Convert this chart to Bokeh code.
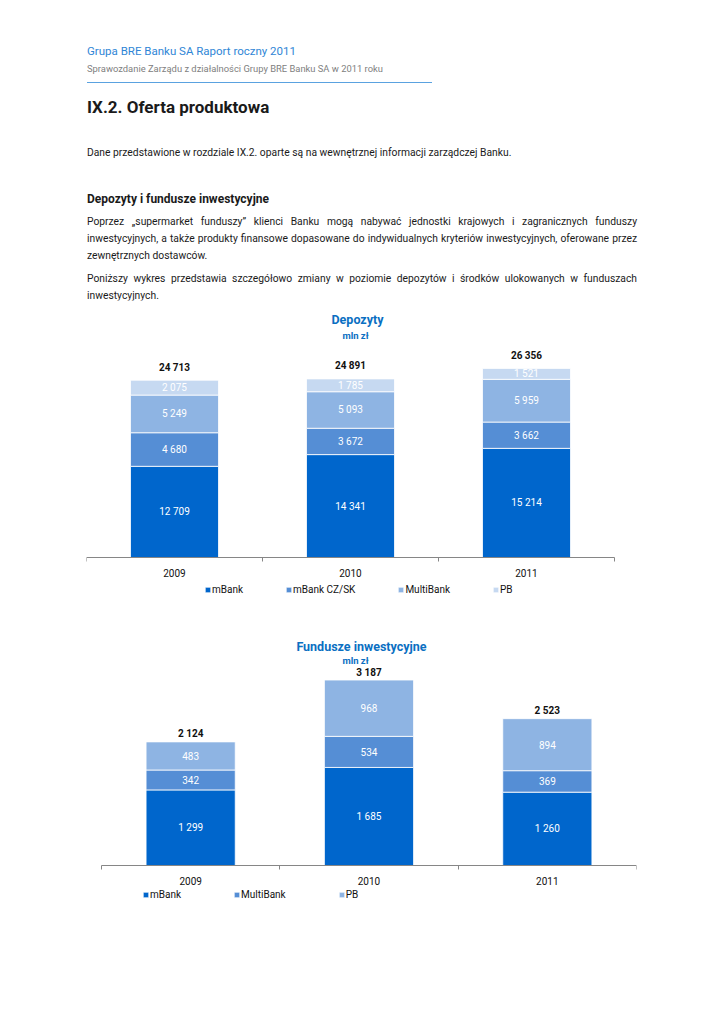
from bokeh.plotting import figure
from bokeh.models import Range1d, FixedTicker, Label, Legend, LegendItem, ColumnDataSource, Div
from bokeh.layouts import column
from bokeh.embed import file_html
from bokeh.resources import INLINE
from bokeh.core.properties import value

# ---------------- data ----------------
years = ["2009", "2010", "2011"]

dep_series = ["mBank", "mBank CZ/SK", "MultiBank", "PB"]
dep_mbank = [12709, 14341, 15214]
dep_czsk = [4680, 3672, 3662]
dep_multibank = [5249, 5093, 5959]
dep_pb = [2075, 1785, 1521]
dep_total = [24713, 24891, 26356]

fund_series = ["mBank", "MultiBank", "PB"]
fund_mbank = [1299, 1685, 1260]
fund_multibank = [342, 534, 369]
fund_pb = [483, 968, 894]
fund_total = [2124, 3187, 2523]

# ---------------- page text ----------------
hdr1 = "Grupa BRE Banku SA Raport roczny 2011"
hdr2 = "Sprawozdanie Zarządu z działalności Grupy BRE Banku SA w 2011 roku"
heading = "IX.2. Oferta produktowa"
intro = "Dane przedstawione w rozdziale IX.2. oparte są na wewnętrznej informacji zarządczej Banku."
subhead = "Depozyty i fundusze inwestycyjne"
par1 = ["Poprzez „supermarket funduszy” klienci Banku mogą nabywać jednostki krajowych i zagranicznych funduszy",
        "inwestycyjnych, a także produkty finansowe dopasowane do indywidualnych kryteriów inwestycyjnych, oferowane przez",
        "zewnętrznych dostawców."]
par2 = ["Poniższy wykres przedstawia szczegółowo zmiany w poziomie depozytów i środków ulokowanych w funduszach",
        "inwestycyjnych."]

FONT = "Roboto"
BODY = 10.3
LEFT = 87


def par_html(lines, top):
    out = []
    for i, ln in enumerate(lines):
        last = i == len(lines) - 1
        if last:
            style = "text-align:left;white-space:nowrap;"
        else:
            style = "text-align:justify;text-align-last:justify;"
        out.append(
            f'<div style="position:absolute;left:{LEFT}px;top:{top + 17 * i}px;width:550px;'
            f'font-size:{BODY}px;line-height:17px;{style}">{ln}</div>')
    return "".join(out)


html = (
    f'<div style="position:relative;width:708px;height:300px;font-family:{FONT},sans-serif;color:#1a1a1a;">'
    f'<div style="position:absolute;left:{LEFT}px;top:44px;font-size:11.5px;line-height:14px;color:#2f86d6;white-space:nowrap;">{hdr1}</div>'
    f'<div style="position:absolute;left:{LEFT}px;top:62.5px;font-size:9.4px;line-height:11px;color:#808080;white-space:nowrap;">{hdr2}</div>'
    f'<div style="position:absolute;left:{LEFT}px;top:82px;width:345px;height:0px;border-top:1px solid #5aa2e0;"></div>'
    f'<div style="position:absolute;left:{LEFT}px;top:97px;font-size:17px;line-height:20px;font-weight:bold;color:#1a1a1a;white-space:nowrap;">{heading}</div>'
    f'<div style="position:absolute;left:{LEFT}px;top:143.5px;font-size:{BODY}px;line-height:17px;white-space:nowrap;">{intro}</div>'
    f'<div style="position:absolute;left:{LEFT}px;top:190.5px;font-size:12px;line-height:17px;font-weight:bold;white-space:nowrap;">{subhead}</div>'
    + par_html(par1, 212.5)
    + par_html(par2, 269.5)
    + '</div>'
)

div = Div(text=html, width=708, height=300, margin=0)


def fmt(v):
    return f"{v:,}".replace(",", " ")


def make_chart(title, names, values, totals, colors, height, x_range, y_range,
               title_xy, unit_xy, legend_loc, legend_spacing, total_off):
    p = figure(width=708, height=height, output_backend="svg", toolbar_location=None,
               x_range=Range1d(*x_range), y_range=Range1d(*y_range), y_axis_location=None,
               min_border_left=86, min_border_right=72, min_border_top=0,
               min_border_bottom=40)
    p.outline_line_color = None
    p.xgrid.visible = False
    p.ygrid.visible = False
    xs = [i + 0.5 for i in range(len(years))]
    bottoms = [0] * len(years)
    items = []
    for name, vals, col in zip(names, values, colors):
        tops = [b + v for b, v in zip(bottoms, vals)]
        src = ColumnDataSource(dict(x=xs, bottom=bottoms, top=tops,
                                    mid=[(b + t) / 2 for b, t in zip(bottoms, tops)],
                                    lab=[fmt(v) for v in vals]))
        r = p.vbar(x="x", bottom="bottom", top="top", width=0.5, source=src,
                   fill_color=col, line_color="white", line_width=0.8)
        p.text(x="x", y="mid", text="lab", source=src, text_align="center", text_baseline="middle",
               text_color="white", text_font=value(FONT), text_font_size="10px")
        items.append(LegendItem(label=name, renderers=[r]))
        bottoms = tops
    tsrc = ColumnDataSource(dict(x=xs, y=totals, lab=[fmt(v) for v in totals]))
    p.text(x="x", y="y", text="lab", source=tsrc, text_align="center", text_baseline="middle",
           y_offset=-total_off, text_color="#111111", text_font=value(FONT), text_font_size="10px",
           text_font_style="bold")
    p.add_layout(Label(x=title_xy[0], y=title_xy[1], x_units="screen", y_units="screen", text=title,
                       text_align="center", text_baseline="middle", text_color="#0a6fc2",
                       text_font=FONT, text_font_size="12.5px", text_font_style="bold"))
    p.add_layout(Label(x=unit_xy[0], y=unit_xy[1], x_units="screen", y_units="screen", text="mln zł",
                       text_align="center", text_baseline="middle", text_color="#0a6fc2",
                       text_font=FONT, text_font_size="9.5px", text_font_style="bold"))
    ax = p.xaxis[0]
    ax.fixed_location = 0
    ax.bounds = (0, len(years))
    ax.ticker = FixedTicker(ticks=xs, minor_ticks=list(range(len(years) + 1)))
    ax.major_label_overrides = {x: y for x, y in zip(xs, years)}
    ax.axis_line_color = "#868686"
    ax.major_tick_in = 0
    ax.major_tick_out = 0
    ax.minor_tick_in = 0
    ax.minor_tick_out = 4
    ax.minor_tick_line_color = "#868686"
    ax.major_label_standoff = 7
    ax.major_label_text_font = FONT
    ax.major_label_text_font_size = "10px"
    ax.major_label_text_color = "#111111"
    leg = Legend(items=items, location=legend_loc, orientation="horizontal", spacing=legend_spacing,
                 glyph_width=7, glyph_height=7, label_standoff=1, padding=0, margin=0,
                 border_line_color=None, background_fill_alpha=0, label_text_font=FONT,
                 label_text_font_size="10px", label_height=12, label_text_color="#111111")
    p.add_layout(leg)
    return p


# chart 1: figure page y 300..640, frame 300..600, baseline at 557
p1 = make_chart("Depozyty", dep_series, [dep_mbank, dep_czsk, dep_multibank, dep_pb], dep_total,
                ["#0066cc", "#558ed5", "#8eb4e3", "#c6d9f1"],
                height=340, x_range=(0, 3.125), y_range=(-5993, 35820),
                title_xy=(271, 281), unit_xy=(269, 265), legend_loc=(118, 5), legend_spacing=42,
                total_off=13)

# chart 2: figure page y 640..945, frame 640..905, baseline at 865
p2 = make_chart("Fundusze inwestycyjne", fund_series, [fund_mbank, fund_multibank, fund_pb], fund_total,
                ["#0066cc", "#558ed5", "#8eb4e3"],
                height=305, x_range=(-0.084, 3.0), y_range=(-687, 3866),
                title_xy=(275, 259), unit_xy=(269, 245), legend_loc=(56, 5), legend_spacing=52,
                total_off=8)

layout = column(div, p1, p2)
open("out.html", "w").write(file_html(layout, INLINE))
